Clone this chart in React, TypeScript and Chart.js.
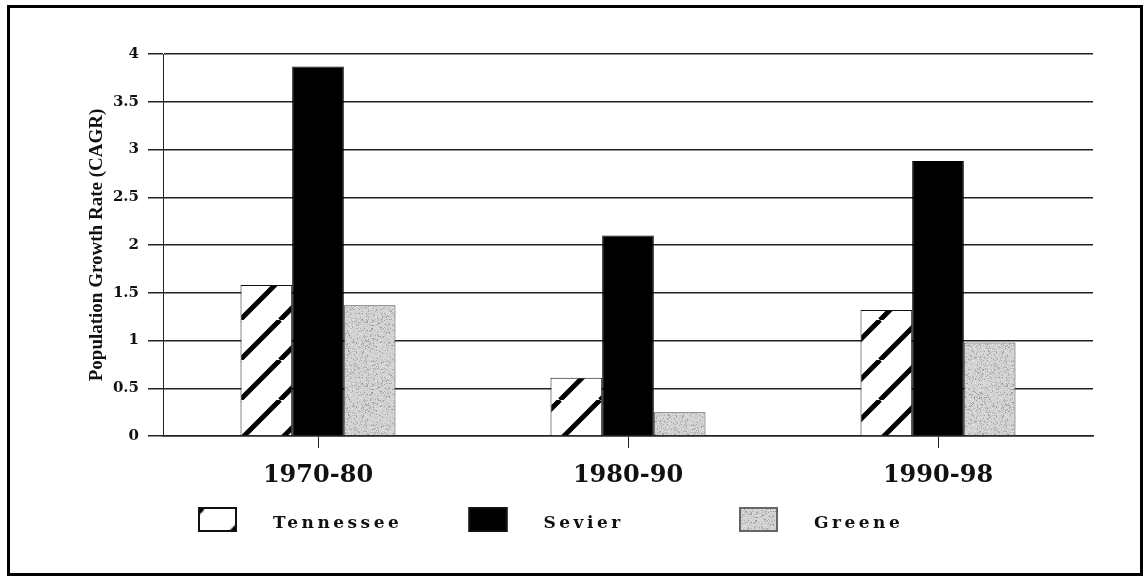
import React, { useEffect, useRef } from 'react';
import { Chart, registerables } from 'chart.js';

Chart.register(...registerables);

// Compound annual growth rate of population, by decade
const periods = ['1970-80', '1980-90', '1990-98'];
const seriesNames = ['Tennessee', 'Sevier', 'Greene'];
const tennessee = [1.58, 0.61, 1.32];
const sevier = [3.87, 2.1, 2.88];
const greene = [1.37, 0.25, 0.98];
const yTicks = [0, 0.5, 1, 1.5, 2, 2.5, 3, 3.5, 4];
const yTitle = 'Population Growth Rate (CAGR)';

const W = 1146;
const H = 578;

// White tile with thick black diagonal stripes
function makeHatch(): CanvasPattern {
  const c = document.createElement('canvas');
  c.width = 40;
  c.height = 40;
  const g = c.getContext('2d')!;
  g.fillStyle = '#ffffff';
  g.fillRect(0, 0, 40, 40);
  g.strokeStyle = '#000000';
  g.lineWidth = 5;
  for (const k of [-40, 0, 40]) {
    g.beginPath();
    g.moveTo(k, 40);
    g.lineTo(k + 40, 0);
    g.stroke();
  }
  return g.createPattern(c, 'repeat')!;
}

// Light grey stipple tile (fixed integer hash per pixel)
function makeStipple(): CanvasPattern {
  const n = 64;
  const c = document.createElement('canvas');
  c.width = n;
  c.height = n;
  const g = c.getContext('2d')!;
  const img = g.createImageData(n, n);
  for (let y = 0; y < n; y++) {
    for (let x = 0; x < n; x++) {
      let h = (x * 374761393 + y * 668265263) | 0;
      h = Math.imul(h ^ (h >>> 13), 1274126177);
      h = (h ^ (h >>> 16)) >>> 0;
      const r = h % 100;
      let v = 212 + ((h >>> 8) % 24) - 12;
      if (r < 14) v = 150 + ((h >>> 4) % 30);
      const i = (y * n + x) * 4;
      img.data[i] = v;
      img.data[i + 1] = v;
      img.data[i + 2] = v;
      img.data[i + 3] = 255;
    }
  }
  g.putImageData(img, 0, 0);
  return g.createPattern(c, 'repeat')!;
}

// Legend row with swatches and a frame around the whole figure
const legendFramePlugin = {
  id: 'legendFrame',
  afterDraw(chart: any) {
    const ctx = chart.ctx as CanvasRenderingContext2D;
    ctx.save();
    const step = 270.5;
    const x0 = 198;
    const boxY = 507;
    const boxW = 39;
    const boxH = 25;
    chart.data.datasets.forEach((ds: any, i: number) => {
      const bx = x0 + i * step;
      const fill = ds.backgroundColor;
      const isHatch = fill instanceof CanvasPattern && i === 0;
      if (isHatch) {
        fill.setTransform(new DOMMatrix().translate(bx + 4, boxY).scale(1.4));
      }
      ctx.fillStyle = fill;
      ctx.fillRect(bx, boxY, boxW, boxH);
      if (isHatch) {
        fill.setTransform(new DOMMatrix());
      }
      ctx.strokeStyle = i === 2 ? '#666' : '#111';
      ctx.lineWidth = 2;
      ctx.strokeRect(bx + 1, boxY + 1, boxW - 2, boxH - 2);

      ctx.fillStyle = '#111';
      ctx.font = 'bold 17px "DejaVu Serif"';
      (ctx as any).letterSpacing = '3.5px';
      ctx.textAlign = 'left';
      ctx.textBaseline = 'middle';
      ctx.fillText(ds.label, bx + 75, boxY + 17);
      (ctx as any).letterSpacing = '0px';
    });
    ctx.strokeStyle = '#000';
    ctx.lineWidth = 3;
    ctx.strokeRect(8.5, 6.5, 1133, 568);
    ctx.restore();
  },
};

export default function App() {
  const canvasRef = useRef<HTMLCanvasElement | null>(null);

  useEffect(() => {
    const canvas = canvasRef.current;
    if (!canvas) return;
    const hatch = makeHatch();
    const stipple = makeStipple();

    const chart = new Chart(canvas, {
      type: 'bar',
      data: {
        labels: periods,
        datasets: [
          {
            label: seriesNames[0],
            data: tennessee,
            backgroundColor: hatch as any,
            borderColor: '#111',
            borderWidth: 1,
          },
          {
            label: seriesNames[1],
            data: sevier,
            backgroundColor: '#000000',
            borderColor: '#000000',
            borderWidth: 1,
          },
          {
            label: seriesNames[2],
            data: greene,
            backgroundColor: stipple as any,
            borderColor: '#444',
            borderWidth: 1,
          },
        ],
      },
      options: {
        responsive: false,
        animation: false,
        devicePixelRatio: 1,
        layout: { padding: { left: 80, top: 54, right: 53, bottom: 82 } },
        datasets: {
          bar: { categoryPercentage: 0.5, barPercentage: 1.0 },
        },
        plugins: {
          legend: { display: false },
          tooltip: { enabled: false },
          title: { display: false },
        },
        scales: {
          x: {
            offset: true,
            afterFit: (s: any) => {
              s.height = 60;
            },
            grid: {
              offset: false,
              drawOnChartArea: false,
              drawTicks: true,
              tickLength: 12,
              color: '#222',
              lineWidth: 1,
            },
            border: { display: true, color: '#222', width: 1.5 },
            ticks: {
              autoSkip: false,
              maxRotation: 0,
              padding: 13,
              color: '#111',
              font: { family: '"DejaVu Serif"', size: 24, weight: 'bold' },
            },
          },
          y: {
            min: 0,
            max: 4,
            afterFit: (s: any) => {
              s.width = 83;
            },
            afterBuildTicks: (s: any) => {
              s.ticks = yTicks.map((v) => ({ value: v }));
            },
            grid: {
              color: '#222',
              lineWidth: 1.5,
              drawTicks: true,
              tickLength: 15,
            },
            border: { display: true, color: '#222', width: 1 },
            ticks: {
              padding: 9,
              color: '#111',
              font: { family: '"DejaVu Serif"', size: 15, weight: 'bold' },
              callback: (v: any) => String(v),
            },
            title: {
              display: true,
              text: yTitle,
              color: '#111',
              padding: { top: 6, bottom: 0 },
              font: { family: '"Liberation Serif"', size: 19, weight: 'bold' },
            },
          },
        },
      },
      plugins: [legendFramePlugin],
    });

    return () => chart.destroy();
  }, []);

  return (
    <div style={{ position: 'absolute', left: 0, top: 0, width: W, height: H, background: '#fff' }}>
      <canvas ref={canvasRef} width={W} height={H} style={{ display: 'block' }} />
    </div>
  );
}
